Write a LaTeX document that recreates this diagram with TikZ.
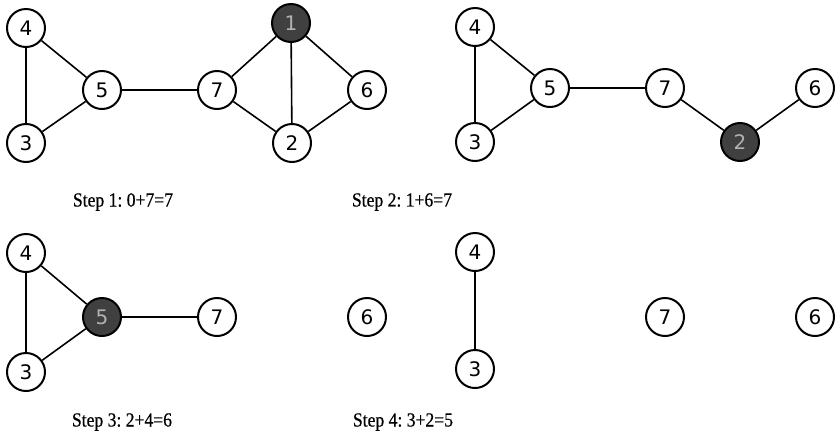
\documentclass[tikz,border=0pt]{standalone}
\usepackage{fontspec}
\setmainfont{Liberation Serif}
\newfontfamily\digitfont{DejaVu Sans}
\newfontfamily\capfont[FakeStretch=0.88,FakeBold=0.6]{Liberation Serif}
\frenchspacing
\begin{document}
\begin{tikzpicture}[x=1pt,y=-1pt,
  vtx/.style={circle,draw=black,line width=2pt,fill=white,minimum size=38pt,inner sep=0pt,font=\digitfont\fontsize{20}{20}\selectfont},
  hot/.style={vtx,fill=black!75,text=black!30},
  edge/.style={line width=1.6pt},
  steplabel/.style={font=\capfont\fontsize{20}{20}\selectfont,anchor=center}]
\useasboundingbox (0,0) rectangle (840,445);
% Panel 1
\node[vtx] (a4) at (26,28) {4};
\node[vtx] (a3) at (26,143) {3};
\node[vtx] (a5) at (102,90) {5};
\node[vtx] (a7) at (217,90) {7};
\node[hot] (a1) at (291,23) {1};
\node[vtx] (a6) at (367,90) {6};
\node[vtx] (a2) at (292,143) {2};
\draw[edge] (a4) -- (a3);
\draw[edge] (a4) -- (a5);
\draw[edge] (a3) -- (a5);
\draw[edge] (a5) -- (a7);
\draw[edge] (a7) -- (a1);
\draw[edge] (a7) -- (a2);
\draw[edge] (a1) -- (a2);
\draw[edge] (a1) -- (a6);
\draw[edge] (a6) -- (a2);
\node[steplabel] (c1) at (123,202) {Step 1: 0+7=7};
% Panel 2
\node[vtx] (b4) at (475,27) {4};
\node[vtx] (b3) at (475,142) {3};
\node[vtx] (b5) at (550,88) {5};
\node[vtx] (b7) at (665,88) {7};
\node[hot] (b2) at (740,142) {2};
\node[vtx] (b6) at (815,88) {6};
\draw[edge] (b4) -- (b3);
\draw[edge] (b4) -- (b5);
\draw[edge] (b3) -- (b5);
\draw[edge] (b5) -- (b7);
\draw[edge] (b7) -- (b2);
\draw[edge] (b2) -- (b6);
\node[steplabel] (c2) at (402,202) {Step 2: 1+6=7};
% Panel 3
\node[vtx] (d4) at (26,253) {4};
\node[vtx] (d3) at (26,372) {3};
\node[hot] (d5) at (102,317) {5};
\node[vtx] (d7) at (217,317) {7};
\node[vtx] (d6) at (367,317) {6};
\draw[edge] (d4) -- (d3);
\draw[edge] (d4) -- (d5);
\draw[edge] (d3) -- (d5);
\draw[edge] (d5) -- (d7);
\node[steplabel] (c3) at (122,422) {Step 3: 2+4=6};
% Panel 4
\node[vtx] (e4) at (475,252) {4};
\node[vtx] (e3) at (475,369) {3};
\node[vtx] (e7) at (665,317) {7};
\node[vtx] (e6) at (815,317) {6};
\draw[edge] (e4) -- (e3);
\node[steplabel] (c4) at (403,422) {Step 4: 3+2=5};
\end{tikzpicture}
\end{document}
